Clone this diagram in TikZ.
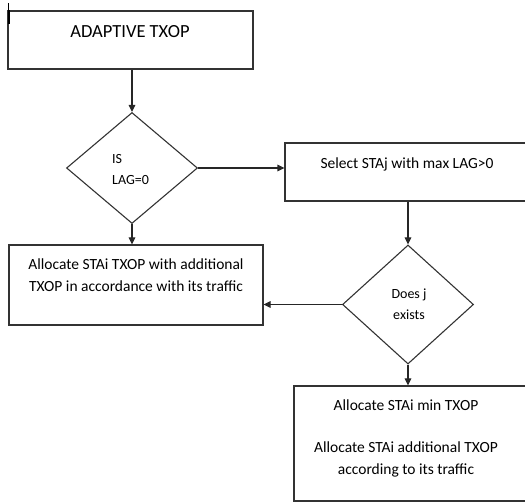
\documentclass[tikz,border=0pt]{standalone}
\usepackage{fontspec}
\setmainfont{Carlito}
\usetikzlibrary{shapes.geometric, arrows.meta, positioning, calc}

\begin{document}
\begin{tikzpicture}[x=1pt, y=-1pt,
  box/.style={rectangle, draw=black!80, line width=1.1pt, inner sep=0pt},
  decision/.style={diamond, draw=black!80, line width=1.1pt, inner sep=0pt, aspect=1.1},
  txt/.style={font=\fontsize{15.5}{22}\selectfont, align=center, inner sep=0pt},
  qtxt/.style={font=\fontsize{14}{21}\selectfont, inner sep=0pt},
  arrow/.style={-{Triangle[length=7pt, width=6.5pt]}, line width=1.1pt, black!85},
]
  \useasboundingbox (0,0) rectangle (525,502);

  % boxes and decisions
  \node[box, minimum width=245pt, minimum height=58pt] (start) at (130.5,40) {};
  \node[decision, minimum width=131pt, minimum height=111pt] (islag) at (132,168) {};
  \node[box, minimum width=255pt, minimum height=58pt] (select) at (412.5,172) {};
  \node[decision, minimum width=131pt, minimum height=119pt] (exists) at (408,304.5) {};
  \node[box, minimum width=254pt, minimum height=80pt] (alloc) at (136,285) {};
  \node[box, minimum width=246pt, minimum height=115pt] (final) at (417,443.5) {};

  % texts
  \node[txt, font=\fontsize{18.5}{22}\selectfont] (starttxt) at (130,32) {ADAPTIVE TXOP};
  \node[qtxt, anchor=west, align=left] (islagtxt) at (112,170) {IS\\LAG=0};
  \node[txt] (selecttxt) at (407,164) {Select STAj with max LAG>0};
  \node[qtxt, align=center] (existstxt) at (409,304) {Does j\\exists};
  \node[txt] (alloctxt) at (136,275) {Allocate STAi TXOP with additional\\TXOP in accordance with its traffic};
  \node[txt] (mintxt) at (406,405) {Allocate STAi min TXOP};
  \node[txt] (addtxt) at (406,459) {Allocate STAi additional TXOP\\according to its traffic};

  % cursor mark
  \draw[line width=0.8pt] ([xshift=1pt, yshift=7pt]start.north west) -- ([xshift=1pt]start.north west);
  \draw[line width=1.6pt] ([xshift=1.5pt]start.north west) -- ([xshift=1.5pt, yshift=-14pt]start.north west);

  % connectors
  \draw[arrow] (start.south -| islag.north) -- (islag.north);
  \draw[arrow] (islag.east) -- (islag.east -| select.west);
  \draw[arrow] (islag.south) -- (islag.south |- alloc.north);
  \draw[arrow] (select.south -| exists.north) -- (exists.north);
  \draw[arrow] (exists.west) -- (exists.west -| alloc.east);
  \draw[arrow] (exists.south) -- (exists.south |- final.north);
\end{tikzpicture}
\end{document}
